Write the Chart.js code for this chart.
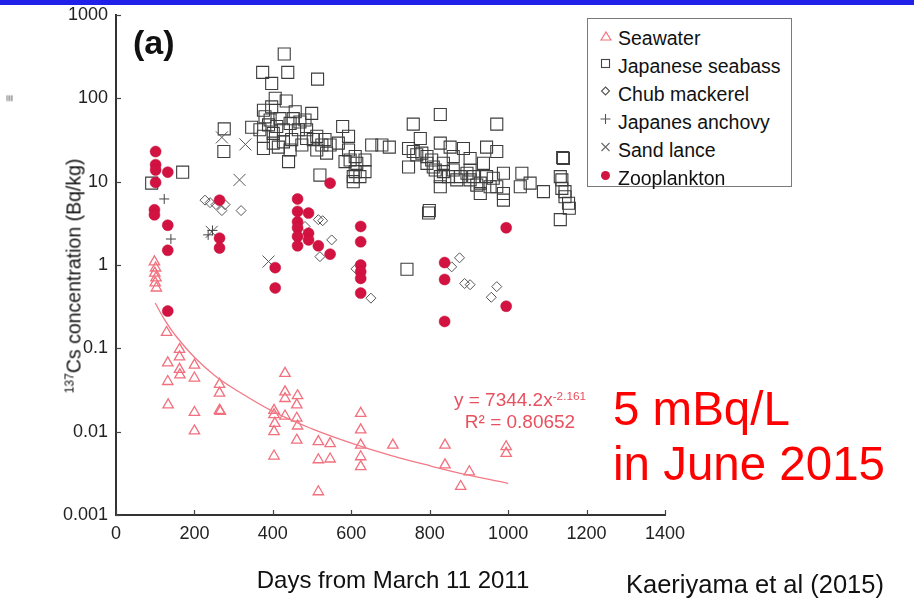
<!DOCTYPE html>
<html>
<head>
<meta charset="utf-8">
<script src="https://cdn.jsdelivr.net/npm/chart.js@4.4.0/dist/chart.umd.min.js"></script>
<style>
    html, body { margin: 0; padding: 0; background: #fff; }
    #wrap { position: relative; width: 914px; height: 606px; overflow: hidden; font-family: "Liberation Sans", Arial, sans-serif; color: #111; }
    #chart { position: absolute; left: 0; top: 0; }
    .t { position: absolute; white-space: nowrap; }
    #topbar { position: absolute; left: 0; top: 0; width: 914px; height: 5px; background: #2020e8; }
    #legend { position: absolute; left: 587px; top: 18px; width: 205px; height: 169px; border: 1.5px solid #7a7a7a; box-sizing: border-box; background: #fff; }
    #legend .row { position: absolute; left: 12px; width: 190px; height: 24px; line-height: 24px; font-size: 19.5px; white-space: nowrap; }
    #legend svg { position: absolute; left: 0; top: 3px; }
    #legend span { position: absolute; left: 18px; top: 0; }
    sup { font-size: 0.62em; vertical-align: 0; position: relative; top: -0.55em; }
</style>
</head>
<body>
<div id="wrap">
    <canvas id="chart" width="914" height="606"></canvas>
    <div id="topbar"></div>
    <div class="t" style="left:133px; top:23px; font-size:34px; font-weight:bold; line-height:38px;">(a)</div>
    <div class="t" style="left:75px; top:276px; font-size:19.5px; line-height:22px; transform: translate(-50%, -50%) rotate(-90deg);"><sup>137</sup>Cs concentration (Bq/kg)</div>
    <div class="t" style="left:393px; top:566px; font-size:24px; line-height:28px; transform: translateX(-50%);">Days from March 11 2011</div>
    <div class="t" style="left:520px; top:389px; font-size:19px; line-height:22px; color:#e8505e; transform: translateX(-50%);">y = 7344.2x<sup>-2.161</sup></div>
    <div class="t" style="left:520px; top:411px; font-size:19px; line-height:22px; color:#e8505e; transform: translateX(-50%);">R² = 0.80652</div>
    <div class="t" style="left:613px; top:381px; font-size:47.5px; line-height:55px; color:#ff0000;">5 mBq/L<br>in June 2015</div>
    <div class="t" style="left:626px; top:570px; font-size:25.5px; line-height:28px;">Kaeriyama et al (2015)</div>
    <div class="t" style="left:6px; top:92px; font-size:12px; line-height:12px; color:#555; transform: rotate(90deg);">≡</div>
    <div id="legend">
        <div class="row" style="top:7px;"><svg width="12" height="14"><polygon points="6,3 11,11 1,11" fill="none" stroke="#f2707e" stroke-width="1.2"/></svg><span>Seawater</span></div>
        <div class="row" style="top:35px;"><svg width="12" height="14"><rect x="1.5" y="2.5" width="8" height="8" fill="none" stroke="#444" stroke-width="1.1"/></svg><span>Japanese seabass</span></div>
        <div class="row" style="top:63px;"><svg width="12" height="14"><polygon points="5.5,2 9.5,6 5.5,10 1.5,6" fill="none" stroke="#555" stroke-width="1.1"/></svg><span>Chub mackerel</span></div>
        <div class="row" style="top:91px;"><svg width="12" height="14"><path d="M5.5 1 V11 M0.5 6 H10.5" stroke="#555" stroke-width="1.1"/></svg><span>Japanes anchovy</span></div>
        <div class="row" style="top:119px;"><svg width="12" height="14"><path d="M1.5 2 L9.5 10 M9.5 2 L1.5 10" stroke="#666" stroke-width="1.1"/></svg><span>Sand lance</span></div>
        <div class="row" style="top:147px;"><svg width="12" height="14"><circle cx="5.5" cy="6.5" r="4.5" fill="#d21240"/></svg><span>Zooplankton</span></div>
    </div>
</div>
<script>
// axis ticks
const xTicks = [0, 200, 400, 600, 800, 1000, 1200, 1400];
const yTicks = [0.001, 0.01, 0.1, 1, 10, 100, 1000];
const yTickLabels = ['0.001', '0.01', '0.1', '1', '10', '100', '1000'];

// Seawater (Bq/L)
const seawaterDays = [98, 101, 99, 102, 100, 103, 129, 162, 162, 132, 162, 163, 200, 200, 132, 133, 200, 200,
    264, 264, 264, 266, 431, 431, 431, 463, 461, 403, 403, 405, 403, 403, 431, 461, 463, 461, 516, 546, 516, 546, 516,
    624, 624, 624, 624, 624, 706, 839, 839, 901, 879, 995, 995];
const seawaterVals = [1.09, 0.92, 0.8, 0.70, 0.61, 0.53, 0.155, 0.097, 0.079, 0.067, 0.056, 0.048, 0.063, 0.044, 0.04, 0.021, 0.017, 0.0102,
    0.037, 0.029, 0.018, 0.0175, 0.05, 0.030, 0.025, 0.027, 0.021, 0.018, 0.016, 0.0126, 0.01, 0.0051, 0.0154, 0.0145, 0.0117, 0.0079, 0.0076, 0.0072, 0.0046, 0.0047, 0.0019,
    0.0166, 0.0105, 0.0069, 0.005, 0.0038, 0.0069, 0.0069, 0.0040, 0.0033, 0.0022, 0.0066, 0.0055];

// Japanese seabass
const seabassDays = [91, 170, 275, 276,
    429, 374, 438, 397, 514, 406, 434, 376, 397, 457, 499, 346, 393, 410, 444, 469, 376, 401, 427, 448, 486, 376, 414, 444, 440, 474,
    503, 525, 520, 546, 567, 578, 593, 593, 584, 610, 635, 610, 605, 635, 652, 678, 697,
    758, 827, 971, 746, 776, 746, 767, 793, 827, 852, 886, 945, 971, 809, 835, 860, 903, 937, 827, 827, 878, 903, 929, 962, 988,
    929, 988, 988, 1035, 1031, 1056, 1090, 797, 799, 1139, 1133, 1137, 1145, 1133, 1141, 1137, 1145, 1154, 1156, 742,
    380, 389, 418, 452, 465, 482, 427, 401, 367, 486, 512, 533, 537, 512, 597, 614, 622, 605,
    758, 780, 805, 814, 835, 848, 869, 895, 912, 920, 945, 954, 971, 793, 860, 903];
const seabassVals = [9.6, 13, 23, 43,
    340, 205, 205, 151, 170, 100, 93, 72, 79, 69, 66, 45, 55, 46, 50, 52, 35, 38, 42, 32, 42, 25, 26, 24, 17.4, 27.5,
    32, 27.5, 12, 27.5, 29, 46, 35, 24, 17.4, 20, 18.2, 13.2, 10, 13.2, 27.5, 27.5, 26,
    49, 64, 49, 25, 33, 15, 21, 20, 29, 26, 25, 26, 23, 15, 16.6, 13.8, 19, 16.6, 11.5, 8.7, 11.5, 10.5, 9.6, 11, 12.6,
    7.2, 7.2, 6, 12.6, 8.7, 9.6, 7.6, 4.2, 4.5, 19.5, 11.5, 8.3, 6.6, 3.5, 19, 10.5, 7.6, 5.5, 4.8, 0.89,
    60, 48, 57, 57, 42, 55, 30, 29, 42, 33, 35, 32, 22, 24, 18.2, 16.6, 11.5, 11.5,
    23, 22, 18.2, 13.8, 13.2, 11.5, 10.5, 12.6, 11.5, 9.1, 11.5, 8.7, 8.7, 16.6, 20, 13.8];

// Chub mackerel
const mackerelDays = [227, 240, 255, 278, 270, 319, 482, 516, 527, 550, 520, 612, 650, 876, 856, 889, 903, 971, 957];
const mackerelVals = [6, 5.6, 5.3, 5.3, 4.5, 4.5, 2.9, 3.5, 3.4, 2.0, 1.26, 0.9, 0.4, 1.22, 0.95, 0.6, 0.58, 0.55, 0.41];

// Japanes anchovy
const anchovyDays = [123, 140, 235, 246];
const anchovyVals = [6.2, 2.05, 2.3, 2.6];

// Sand lance
const sandlanceDays = [270, 330, 244, 315, 389];
const sandlanceVals = [34, 28, 2.5, 10.5, 1.1];

// Zooplankton
const zooDays = [101, 101, 101, 132, 101, 98, 98, 132, 132, 132, 264, 264, 264, 406, 406, 463, 463, 491, 463, 463, 463, 491, 491, 463,
    516, 546, 546, 624, 624, 624, 624, 624, 624, 838, 838, 838, 995, 995];
const zooVals = [23, 16, 13.8, 13, 9.8, 4.6, 4.0, 3.0, 1.5, 0.28, 6.0, 2.1, 1.6, 0.93, 0.53, 6.2, 4.4, 4.2, 3.3, 2.8, 2.2, 2.4, 2.0, 1.7,
    1.7, 1.35, 9.6, 2.9, 1.9, 1.0, 0.83, 0.69, 0.46, 1.07, 0.67, 0.21, 2.8, 0.32];

// seawater power-law trend line
const fitDays = [100, 125, 150, 200, 250, 300, 400, 500, 600, 700, 800, 900, 1000];
const fitVals = [0.35, 0.216, 0.146, 0.078, 0.048, 0.033, 0.0175, 0.0108, 0.0073, 0.0052, 0.0039, 0.003, 0.0024];

const pts = (xs, ys) => xs.map((x, i) => ({ x: x, y: ys[i] }));

// short tick marks pointing into the plot
const innerTicks = {
    id: 'innerTicks',
    afterDraw(chart) {
        const { ctx, chartArea: a, scales: { x, y } } = chart;
        ctx.save();
        ctx.strokeStyle = '#444';
        ctx.lineWidth = 1.2;
        x.ticks.forEach(t => {
            const px = Math.round(x.getPixelForValue(t.value)) + 0.5;
            ctx.beginPath(); ctx.moveTo(px, a.bottom); ctx.lineTo(px, a.bottom - 5); ctx.stroke();
        });
        y.ticks.forEach(t => {
            const py = Math.round(y.getPixelForValue(t.value)) + 0.5;
            ctx.beginPath(); ctx.moveTo(a.left, py); ctx.lineTo(a.left + 5, py); ctx.stroke();
        });
        ctx.restore();
    }
};

const tickFont = { family: '"Liberation Sans", Arial, sans-serif', size: 18 };

new Chart(document.getElementById('chart'), {
    type: 'scatter',
    data: {
        datasets: [
            {
                label: 'Zooplankton', data: pts(zooDays, zooVals),
                pointStyle: 'circle', pointRadius: 5.5,
                backgroundColor: '#d21240', borderColor: '#c40f3a', borderWidth: 0.5
            },
            {
                type: 'line', label: 'trend', data: pts(fitDays, fitVals),
                borderColor: '#f27a86', borderWidth: 1.3, pointRadius: 0, tension: 0.4, fill: false
            },
            {
                label: 'Seawater', data: pts(seawaterDays, seawaterVals),
                pointStyle: 'triangle', pointRadius: 6,
                backgroundColor: 'rgba(0,0,0,0)', borderColor: '#f2707e', borderWidth: 1.3
            },
            {
                label: 'Chub mackerel', data: pts(mackerelDays, mackerelVals),
                pointStyle: 'rectRot', pointRadius: 5,
                backgroundColor: 'rgba(0,0,0,0)', borderColor: '#555', borderWidth: 1
            },
            {
                label: 'Japanes anchovy', data: pts(anchovyDays, anchovyVals),
                pointStyle: 'cross', pointRadius: 5,
                borderColor: '#444', borderWidth: 1
            },
            {
                label: 'Sand lance', data: pts(sandlanceDays, sandlanceVals),
                pointStyle: 'crossRot', pointRadius: 8.5,
                borderColor: '#555', borderWidth: 1
            },
            {
                label: 'Japanese seabass', data: pts(seabassDays, seabassVals),
                pointStyle: 'rect', pointRadius: 8.5,
                backgroundColor: 'rgba(0,0,0,0)', borderColor: '#3c3c3c', borderWidth: 1.1
            }
        ]
    },
    options: {
        responsive: false,
        animation: false,
        devicePixelRatio: 1,
        layout: { padding: { left: 0, top: 15, right: 249, bottom: 0 } },
        plugins: { legend: { display: false }, tooltip: { enabled: false } },
        scales: {
            x: {
                type: 'linear', min: 0, max: 1400,
                afterBuildTicks: s => { s.ticks = xTicks.map(v => ({ value: v })); },
                afterFit: s => { s.height = 91; s.paddingLeft = 0; s.paddingRight = 0; },
                grid: { display: false, drawTicks: false },
                border: { display: true, color: '#333', width: 2 },
                ticks: { font: tickFont, color: '#222', padding: 8, maxRotation: 0, callback: v => String(v) }
            },
            y: {
                type: 'logarithmic', min: 0.001, max: 1000,
                afterBuildTicks: s => { s.ticks = yTicks.map(v => ({ value: v })); },
                afterFit: s => { s.width = 116; s.paddingTop = 0; s.paddingBottom = 0; },
                grid: { display: false, drawTicks: false },
                border: { display: true, color: '#333', width: 2 },
                ticks: { font: tickFont, color: '#222', padding: 8, callback: (v, i) => yTickLabels[i] }
            }
        }
    },
    plugins: [innerTicks]
});
</script>
</body>
</html>
